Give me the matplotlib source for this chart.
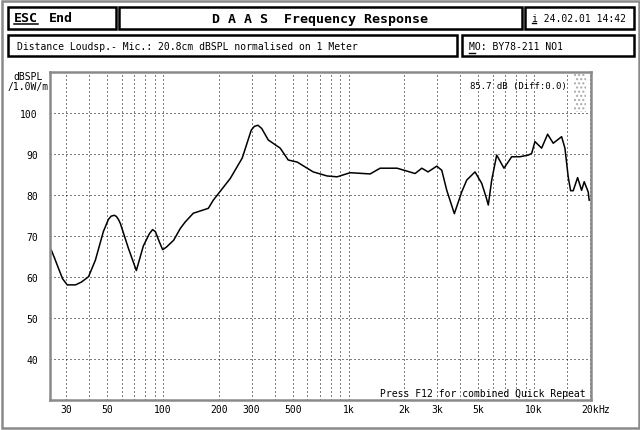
import matplotlib
matplotlib.use('Agg')
import matplotlib.pyplot as plt
from matplotlib.patches import Rectangle
from matplotlib.ticker import NullLocator

plt.rcParams['font.family'] = 'DejaVu Sans Mono'

freq = [24.5, 25.0, 26.0, 27.3, 28.7, 30.4, 33.7, 36.3, 39.6, 43.1, 47.6, 50.7,
        52.5, 54.6, 56.0, 57.4, 58.8, 64.9, 71.7, 78.2, 81.2, 84.3, 87.8, 90.8,
        95.4, 99.4, 104, 113.9, 123.8, 131.7, 145.4, 175.2, 186.4, 230.1, 267,
        298.5, 310, 324.3, 340, 368.6, 427.7, 472.3, 528, 643.8, 766, 867, 1019,
        1306, 1478, 1824, 2281, 2479, 2680, 2985, 3176, 3380, 3713, 4069, 4330,
        4800, 5215, 5502, 5660, 5904, 6281, 6876, 7565, 8386, 9294, 9694, 10097,
        10973, 11817, 12670, 14060, 14650, 15260, 15720, 16235, 17150, 18020,
        18610, 19560, 19800]
spl = [67, 66.4, 64.5, 62, 59.5, 58, 58, 58.7, 60, 64, 71, 74,
       74.8, 75, 74.7, 74, 73, 67, 61.5, 67.5, 69, 70.5, 71.5, 71,
       68.5, 66.6, 67.2, 68.9, 71.8, 73.4, 75.5, 76.7, 78.7, 84, 89,
       95.8, 96.7, 97, 96.2, 93.4, 91.4, 88.5, 88, 85.6, 84.6, 84.4, 85.4,
       85.1, 86.5, 86.5, 85.2, 86.5, 85.6, 87, 86, 81.1, 75.4, 80.7, 83.6,
       85.6, 82.8, 79.5, 77.5, 83.6, 89.7, 86.5, 89.3, 89.3, 89.7, 90.1, 93,
       91.4, 94.8, 92.6, 94.2, 91.4, 84.4, 81, 81, 84.2, 81.1,
       83.2, 80.7, 78.7]

grid_freqs = [30, 40, 50, 60, 70, 80, 90, 100, 200, 300, 400, 500, 600, 700,
              800, 900, 1000, 2000, 3000, 4000, 5000, 6000, 7000, 8000, 9000,
              10000, 15000, 20000]
freq_labels = {30: '30', 50: '50', 100: '100', 200: '200', 300: '300',
               500: '500', 1000: '1k', 2000: '2k', 3000: '3k', 5000: '5k',
               10000: '10k', 20000: '20k'}
db_ticks = [40, 50, 60, 70, 80, 90, 100]

W, H = 640, 431
fig = plt.figure(figsize=(W / 100, H / 100), dpi=100)

# the graph
ax = fig.add_axes([49.5 / W, (H - 400.5) / H, 541.5 / W, 327.5 / H])
ax.set_xscale('log')
ax.set_xlim(24.4, 20250)
ax.set_ylim(30, 110)
ax.plot(freq, spl, color='black', lw=1.1)
ax.set_xticks(grid_freqs, [freq_labels.get(f, '') for f in grid_freqs])
ax.xaxis.set_minor_locator(NullLocator())
ax.set_yticks(db_ticks)
ax.grid(True, color='black', lw=0.72, ls=(0, (1, 3)))
ax.tick_params(axis='x', length=0, labelsize=7, pad=3)
ax.tick_params(axis='y', length=0, labelsize=7, pad=8.3)
for s in ax.spines.values():
    s.set_color('#8a8a8a')
    s.set_linewidth(1.8)
ax.annotate('Hz', xy=(20000, 0), xycoords=('data', 'axes fraction'),
            xytext=(6.3, -3), textcoords='offset points', ha='left', va='top',
            fontsize=7)

# screen decoration in pixel coords
ov = fig.add_axes([0, 0, 1, 1], facecolor='none')
ov.set_xlim(0, W)
ov.set_ylim(H, 0)
ov.axis('off')


def box(x0, y0, x1, y1, lw=1.8, color='black'):
    ov.add_patch(Rectangle((x0, y0), x1 - x0, y1 - y0, fill=False, lw=lw, ec=color))


box(1.5, 1.5, 638.5, 429.5, lw=1.8, color='#8a8a8a')
box(7.5, 8, 115.5, 29.5)
box(118.5, 8, 521.5, 29.5)
box(525, 8, 634, 29.5)
box(7.5, 35.5, 456.5, 57)
box(461.5, 35.5, 634, 57)

ov.text(13.5, 22.5, 'ESC', fontsize=9.5, fontweight='bold', va='baseline')
ov.plot([13.5, 37.5], [24.5, 24.5], color='black', lw=1.1)
ov.text(49, 22.5, 'End', fontsize=9.5, fontweight='bold', va='baseline')
ov.text(320, 23, 'D A A S  Frequency Response', fontsize=9.5, fontweight='bold',
        va='baseline', ha='center')
ov.text(531.5, 21.8, 'i 24.02.01 14:42', fontsize=7, va='baseline')
ov.plot([531.5, 536], [24, 24], color='black', lw=1)
ov.text(17, 50, 'Distance Loudsp.- Mic.: 20.8cm dBSPL normalised on 1 Meter',
        fontsize=7, va='baseline')
ov.text(469.3, 49.5, 'MO: BY78-211 NO1', fontsize=7, va='baseline')
ov.plot([469.3, 474.5], [54.3, 54.3], color='black', lw=1)

ov.text(28, 80, 'dBSPL', fontsize=7, va='baseline', ha='center')
ov.text(28, 90, '/1.0W/m', fontsize=7, va='baseline', ha='center')

ov.text(567, 89.3, '85.7 dB (Diff:0.0)', fontsize=6.5, va='baseline', ha='right')
ov.add_patch(Rectangle((574, 75), 12, 38, fill=False, lw=0, ec='#aaaaaa', hatch='....'))
ov.text(586, 397.5, 'Press F12 for combined Quick Repeat', fontsize=7,
        va='baseline', ha='right')

fig.savefig('out.png', dpi=100)
